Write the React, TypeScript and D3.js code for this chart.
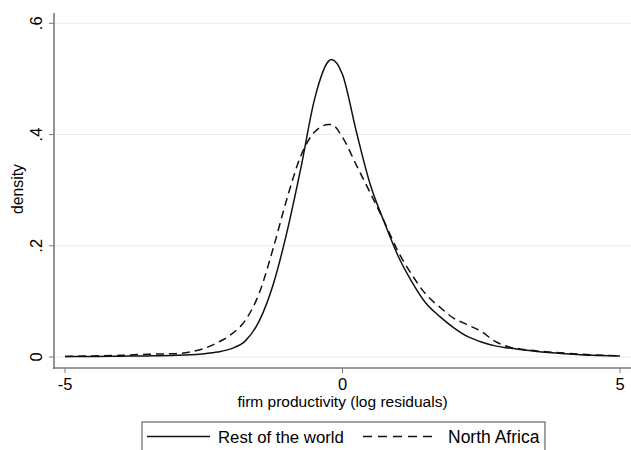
import React, { useEffect, useRef } from 'react';
import * as d3 from 'd3';

// kernel density estimates
const gridX = [-5, -4.5, -4, -3.5, -3, -2.75, -2.5, -2.25, -2, -1.75, -1.5, -1.25, -1, -0.75, -0.5, -0.25, -0.2, 0, 0.25, 0.5, 0.75, 1, 1.25, 1.5, 1.75, 2, 2.25, 2.5, 2.75, 3, 3.5, 4, 4.5, 5];
const restOfWorld = [0.001, 0.001, 0.0015, 0.002, 0.003, 0.004, 0.006, 0.009, 0.015, 0.029, 0.065, 0.13, 0.225, 0.34, 0.465, 0.532, 0.535, 0.508, 0.405, 0.31, 0.243, 0.182, 0.135, 0.097, 0.073, 0.053, 0.037, 0.027, 0.02, 0.016, 0.01, 0.006, 0.003, 0.002];
const northAfrica = [0.001, 0.002, 0.003, 0.005, 0.006, 0.009, 0.015, 0.026, 0.041, 0.066, 0.115, 0.195, 0.285, 0.362, 0.405, 0.418, 0.418, 0.395, 0.345, 0.295, 0.244, 0.19, 0.148, 0.113, 0.09, 0.07, 0.058, 0.046, 0.028, 0.018, 0.011, 0.007, 0.004, 0.002];

const xTicks = [-5, 0, 5];
const yTicks = [0, 0.2, 0.4, 0.6];
const yTickLabels = ['0', '.2', '.4', '.6'];

const seriesNames = ['Rest of the world', 'North Africa'];

const App = () => {
    const svgRef = useRef<SVGSVGElement>(null);

    useEffect(() => {
        const width = 631;
        const height = 450;
        const font = '"Liberation Sans", Arial, sans-serif';
        const axisColor = '#7a7a7a';

        const svg = d3.select(svgRef.current);
        svg.selectAll('*').remove();

        svg.append('rect').attr('width', width).attr('height', height).attr('fill', '#fff');

        const x = d3.scaleLinear().domain([-5, 5]).range([65, 620]);
        const y = d3.scaleLinear().domain([0, 0.6]).range([357, 23.3]);

        const axisX = 54;
        const axisY = 368;

        // grid
        yTicks.forEach(t => {
            svg.append('line')
                .attr('x1', axisX).attr('x2', width)
                .attr('y1', y(t)).attr('y2', y(t))
                .attr('stroke', '#ececec').attr('stroke-width', 1);
        });

        // curves
        const line = d3.line<number>()
            .x((_, i) => x(gridX[i]))
            .y(d => y(d))
            .curve(d3.curveMonotoneX);

        svg.append('path')
            .attr('d', line(restOfWorld))
            .attr('fill', 'none').attr('stroke', '#111').attr('stroke-width', 1.5);

        svg.append('path')
            .attr('d', line(northAfrica))
            .attr('fill', 'none').attr('stroke', '#111').attr('stroke-width', 1.5)
            .attr('stroke-dasharray', '8,5');

        // axes lines
        svg.append('line')
            .attr('x1', axisX).attr('x2', axisX).attr('y1', 13).attr('y2', axisY + 1)
            .attr('stroke', axisColor).attr('stroke-width', 1.6);
        svg.append('line')
            .attr('x1', axisX - 1).attr('x2', width).attr('y1', axisY).attr('y2', axisY)
            .attr('stroke', axisColor).attr('stroke-width', 1.6);

        // y ticks
        yTicks.forEach((t, i) => {
            svg.append('line')
                .attr('x1', axisX - 5).attr('x2', axisX)
                .attr('y1', y(t)).attr('y2', y(t))
                .attr('stroke', axisColor).attr('stroke-width', 1);
            svg.append('text')
                .attr('transform', `translate(42,${y(t)}) rotate(-90)`)
                .attr('text-anchor', 'middle')
                .attr('font-family', font).attr('font-size', 16.5)
                .attr('fill', '#000')
                .text(yTickLabels[i]);
        });

        // x ticks
        xTicks.forEach(t => {
            svg.append('line')
                .attr('x1', x(t)).attr('x2', x(t))
                .attr('y1', axisY).attr('y2', axisY + 5)
                .attr('stroke', axisColor).attr('stroke-width', 1);
            svg.append('text')
                .attr('x', x(t)).attr('y', 389.5)
                .attr('text-anchor', 'middle')
                .attr('font-family', font).attr('font-size', 16.5)
                .attr('fill', '#000')
                .text(t);
        });

        // axis titles
        svg.append('text')
            .attr('x', 342.5).attr('y', 407)
            .attr('text-anchor', 'middle')
            .attr('font-family', font).attr('font-size', 15.5)
            .attr('fill', '#000')
            .text('firm productivity (log residuals)');

        svg.append('text')
            .attr('transform', `translate(23,189) rotate(-90)`)
            .attr('text-anchor', 'middle')
            .attr('font-family', font).attr('font-size', 15.8)
            .attr('fill', '#000')
            .text('density');

        // legend
        const lg = svg.append('g');
        lg.append('rect')
            .attr('x', 142).attr('y', 422).attr('width', 403).attr('height', 40)
            .attr('fill', '#fff').attr('stroke', '#666').attr('stroke-width', 1.2);
        lg.append('line')
            .attr('x1', 147).attr('x2', 210).attr('y1', 436.5).attr('y2', 436.5)
            .attr('stroke', '#111').attr('stroke-width', 1.5);
        lg.append('text')
            .attr('x', 218).attr('y', 443)
            .attr('font-family', font).attr('font-size', 16.8)
            .attr('fill', '#000')
            .text(seriesNames[0]);
        lg.append('line')
            .attr('x1', 363).attr('x2', 434).attr('y1', 436.5).attr('y2', 436.5)
            .attr('stroke', '#111').attr('stroke-width', 1.5)
            .attr('stroke-dasharray', '9,6');
        lg.append('text')
            .attr('x', 448).attr('y', 443)
            .attr('font-family', font).attr('font-size', 17.5)
            .attr('fill', '#000')
            .text(seriesNames[1]);
    }, []);

    return (
        <svg
            ref={svgRef}
            width={631}
            height={450}
            style={{ position: 'absolute', left: 0, top: 0, display: 'block' }}
        />
    );
};

export default App;
